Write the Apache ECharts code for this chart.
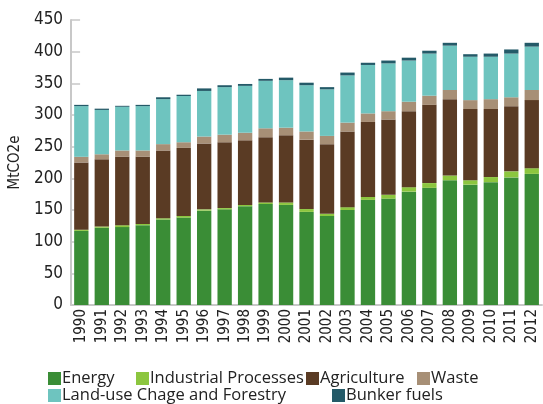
<!DOCTYPE html>
<html>
<head>
<meta charset="utf-8">
<script src="https://cdn.jsdelivr.net/npm/echarts@6/dist/echarts.min.js"></script>
<style>html,body{margin:0;padding:0;background:#fff}#c{width:543px;height:404px}</style>
</head>
<body>
<div id="c"></div>
<script>
var years = ['1990','1991','1992','1993','1994','1995','1996','1997','1998','1999','2000','2001','2002','2003','2004','2005','2006','2007','2008','2009','2010','2011','2012'];
var energy      = [117,122,123,126,135,138,149,151,156,159.5,158,147,140.5,150,166,168,179,185,197,190,194,201.5,207];
var industrial  = [2,2,3,2,2,2.5,2,2,2,2.5,4,4.5,3.5,4.5,4.5,6,7,7.5,7.5,7,8,9.5,9];
var agriculture = [106,106,108,106,107,107.5,104,104,102,103,106,109.5,110,119.5,118.5,119,120,123.5,120.5,112.5,107.5,103,107.5];
var waste       = [9,8,10,10,10,9,11,12,12,14,12,13,13,14,13.5,13,15,14.5,14.5,14,15.5,14,16];
var landuse     = [80,70,69,70,71,73,72,75,74,75,75,73,73.5,74.5,76.5,75.5,65,66.5,70,68.5,67,69,68.5];
var bunker      = [2,2,1.5,2,3,2,4,3,3,3,4,4,3.5,4.5,3.5,4.5,4.5,4.5,4.5,4,5,6.5,6];
var yTicks = {min:0, max:450, interval:50};

var names = ['Energy','Industrial Processes','Agriculture','Waste','Land-use Chage and Forestry','Bunker fuels'];
var colors = ['#3a8d36','#8cc63f','#5a3b24','#a78f76','#6ec4bf','#245a68'];
var dataSets = [energy, industrial, agriculture, waste, landuse, bunker];

var condensed = "'Liberation Sans Narrow','DejaVu Sans Condensed',sans-serif";
var legendFont = "'Open Sans','Noto Sans',sans-serif";

var legendPos = [
  {left:48, top:370},
  {left:136, top:370},
  {left:306, top:370},
  {left:417, top:370},
  {left:48, top:387},
  {left:332, top:387}
];

var chart = echarts.init(document.getElementById('c'), null, {renderer:'canvas'});
chart.setOption({
  animation:false,
  color: colors,
  legend: names.map(function(n,i){
    return {
      data:[n], left:legendPos[i].left, top:legendPos[i].top,
      itemWidth:13, itemHeight:13, icon:'rect', padding:0,
      textStyle:{fontFamily:legendFont, fontSize:16.5, color:'#222', padding:[0,0,0,-4]}
    };
  }),
  grid:{left:68, right:1, top:20, bottom:99},
  xAxis:{
    type:'category', data:years,
    axisLine:{lineStyle:{color:'#c8c8c8', width:2}},
    axisTick:{inside:true, length:4, lineStyle:{color:'#c8c8c8'}},
    axisLabel:{rotate:90, fontFamily:condensed, fontSize:15, color:'#222', margin:4}
  },
  yAxis:{
    type:'value', min:yTicks.min, max:yTicks.max, interval:yTicks.interval,
    name:'MtCO2e', nameLocation:'middle', nameGap:42,
    nameTextStyle:{fontFamily:condensed, fontSize:15, color:'#222'},
    axisLine:{show:true, lineStyle:{color:'#c8c8c8', width:2}},
    axisTick:{show:true, inside:true, length:9, lineStyle:{color:'#c8c8c8', width:1.5}},
    splitLine:{show:false},
    axisLabel:{fontFamily:condensed, fontSize:17, color:'#222', margin:8}
  },
  series: names.map(function(n,i){
    return {name:n, type:'bar', stack:'total', data:dataSets[i], barWidth:'70%',
      itemStyle:{color:colors[i]}};
  })
});
</script>
</body>
</html>
